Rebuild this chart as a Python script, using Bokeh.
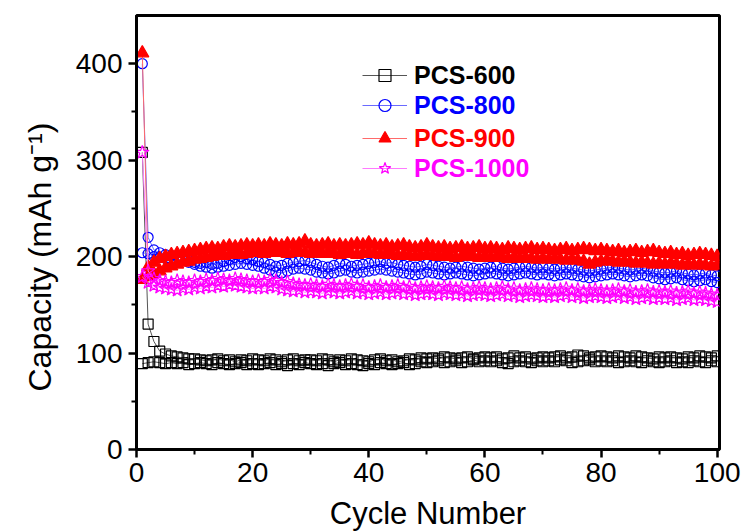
from bokeh.plotting import figure
from bokeh.models import Range1d, FixedTicker, Legend, LegendItem, Title
from bokeh.layouts import column
from bokeh.core.properties import value
from bokeh.embed import file_html
from bokeh.resources import INLINE

cycles = list(range(1, 101))

pcs600_dis = [308, 130, 112, 102, 99, 97, 96, 95, 94, 94,
              93, 92, 93, 94, 92, 93, 91, 93, 92, 94,
              93, 92, 94, 93, 91, 93, 94, 92, 93, 93,
              92, 94, 93, 91, 93, 92, 94, 93, 92, 91,
              93, 94, 92, 93, 91, 92, 94, 93, 95, 94,
              95, 94, 96, 95, 94, 95, 96, 94, 95, 96,
              95, 96, 94, 95, 97, 95, 96, 94, 95, 96,
              95, 96, 97, 95, 96, 98, 97, 95, 96, 97,
              96, 95, 97, 96, 95, 97, 96, 95, 94, 96,
              95, 96, 95, 94, 96, 95, 97, 96, 95, 97]
pcs600_chg = [89, 90, 91, 90, 89, 90, 89, 90, 88, 89,
              90, 89, 88, 90, 89, 88, 89, 90, 88, 89,
              88, 89, 90, 88, 89, 87, 89, 88, 90, 89,
              88, 89, 87, 89, 90, 88, 89, 88, 87, 89,
              88, 90, 89, 88, 89, 90, 88, 89, 91, 90,
              91, 92, 90, 91, 92, 90, 91, 93, 91, 92,
              91, 92, 90, 89, 91, 92, 91, 90, 92, 91,
              92, 91, 93, 92, 90, 91, 92, 93, 91, 92,
              91, 92, 90, 91, 92, 91, 90, 92, 91, 90,
              91, 92, 90, 91, 90, 92, 91, 90, 92, 91]

pcs800_dis = [400, 220, 207, 204, 202, 201, 200, 199, 196, 194,
              193, 194, 192, 193, 195, 197, 199, 200, 198, 197,
              195, 194, 192, 190, 191, 193, 194, 195, 196, 194,
              192, 190, 189, 191, 193, 192, 190, 191, 192, 193,
              194, 195, 193, 194, 192, 191, 190, 189, 190, 192,
              191, 190, 189, 188, 189, 190, 189, 188, 187, 188,
              189, 190, 188, 187, 188, 189, 190, 189, 188, 189,
              188, 187, 188, 189, 188, 187, 186, 185, 186, 187,
              188, 189, 188, 187, 186, 187, 188, 187, 185, 184,
              183, 184, 185, 183, 182, 181, 182, 183, 181, 180]
pcs800_chg = [204, 203, 200, 199, 198, 197, 197, 196, 194, 192,
              190, 189, 188, 189, 190, 191, 192, 193, 192, 191,
              190, 188, 186, 184, 183, 185, 187, 188, 187, 186,
              184, 183, 182, 183, 185, 186, 184, 183, 184, 185,
              186, 187, 186, 185, 184, 183, 182, 181, 182, 184,
              183, 182, 181, 182, 183, 182, 181, 180, 181, 182,
              183, 182, 181, 180, 181, 182, 183, 182, 181, 182,
              181, 180, 181, 182, 181, 180, 179, 178, 179, 180,
              181, 182, 181, 180, 179, 180, 181, 180, 178, 177,
              176, 177, 178, 176, 175, 174, 175, 176, 174, 173]

pcs900_dis = [411, 189, 194, 198, 200, 202, 203, 204, 205, 206,
              207, 208, 209, 208, 210, 211, 210, 211, 212, 211,
              212, 211, 213, 212, 211, 213, 212, 213, 216, 212,
              211, 212, 213, 211, 212, 211, 212, 213, 212, 214,
              212, 211, 212, 210, 211, 212, 210, 209, 210, 212,
              210, 209, 210, 208, 209, 210, 208, 209, 210, 208,
              209, 208, 207, 209, 208, 207, 208, 209, 207, 208,
              207, 206, 207, 208, 206, 207, 208, 207, 206, 207,
              206, 205, 206, 204, 205, 206, 204, 205, 206, 204,
              203, 204, 202, 203, 201, 202, 203, 202, 201, 200]
pcs900_chg = [176, 179, 182, 185, 188, 190, 192, 194, 195, 197,
              198, 199, 200, 201, 201, 202, 203, 202, 203, 204,
              204, 203, 204, 205, 204, 203, 204, 205, 204, 203,
              204, 203, 204, 203, 202, 204, 203, 202, 203, 204,
              203, 202, 203, 202, 201, 202, 201, 200, 201, 202,
              201, 200, 201, 200, 199, 200, 201, 200, 199, 200,
              199, 200, 199, 198, 199, 198, 199, 198, 197, 198,
              197, 198, 197, 196, 197, 196, 195, 192, 194, 195,
              196, 195, 194, 195, 194, 193, 194, 193, 192, 193,
              192, 193, 192, 191, 192, 191, 192, 191, 190, 191]

pcs1000_dis = [308, 185, 177, 175, 174, 173, 175, 174, 173, 175,
               174, 176, 175, 177, 176, 175, 177, 176, 175, 174,
               175, 174, 176, 175, 173, 174, 172, 171, 170, 171,
               170, 169, 171, 170, 169, 170, 171, 169, 170, 168,
               169, 170, 168, 169, 170, 168, 169, 167, 168, 169,
               168, 167, 169, 168, 167, 168, 166, 167, 168, 167,
               166, 167, 168, 166, 167, 165, 166, 167, 166, 165,
               166, 165, 166, 167, 165, 166, 164, 165, 166, 165,
               164, 165, 166, 164, 165, 163, 164, 165, 163, 164,
               163, 164, 162, 163, 164, 162, 163, 162, 161, 160]
pcs1000_chg = [179, 173, 170, 168, 167, 166, 165, 167, 166, 168,
               167, 169, 168, 170, 169, 171, 170, 169, 168, 167,
               168, 167, 169, 168, 166, 165, 164, 165, 163, 164,
               163, 162, 164, 163, 162, 163, 164, 162, 163, 161,
               162, 163, 161, 162, 163, 161, 162, 160, 161, 162,
               161, 160, 162, 161, 160, 161, 159, 160, 161, 160,
               159, 160, 161, 159, 160, 158, 159, 160, 159, 158,
               159, 158, 159, 160, 158, 159, 157, 158, 159, 158,
               157, 158, 159, 157, 158, 156, 157, 158, 156, 157,
               156, 157, 155, 156, 157, 155, 156, 155, 154, 153]

names = ["PCS-600", "PCS-800", "PCS-900", "PCS-1000"]
x_ticks = [0, 20, 40, 60, 80, 100]
x_minor = [10, 30, 50, 70, 90]
y_ticks = [0, 100, 200, 300, 400]
y_minor = [50, 150, 250, 350]
x_title = "Cycle Number"
y_title = "Capacity (mAh g\u207b\u00b9)"

FONT = "Liberation Sans"
W = 741
H_MAIN, H_TITLE = 494, 38
BL, BR, BT, BB = 136, 22, 15, 45

p = figure(width=W, height=H_MAIN, output_backend="svg", toolbar_location=None,
           x_range=Range1d(0, 100.4), y_range=Range1d(0, 450),
           min_border_left=BL, min_border_right=BR, min_border_top=BT,
           min_border_bottom=BB)
p.background_fill_color = "white"
p.border_fill_color = "white"
p.xgrid.visible = False
p.ygrid.visible = False
p.outline_line_color = "black"
p.outline_line_width = 3

p.xaxis.ticker = FixedTicker(ticks=x_ticks, minor_ticks=x_minor)
p.yaxis.ticker = FixedTicker(ticks=y_ticks, minor_ticks=y_minor)
for ax in (p.xaxis[0], p.yaxis[0]):
    ax.axis_line_width = 3
    ax.axis_line_color = "black"
    ax.major_tick_in = 0
    ax.major_tick_out = 8
    ax.minor_tick_in = 0
    ax.minor_tick_out = 5
    ax.major_tick_line_width = 2.5
    ax.minor_tick_line_width = 2
    ax.major_label_text_font = FONT
    ax.major_label_text_font_size = "28px"
    ax.major_label_text_color = "black"

p.xaxis.major_label_standoff = 5
p.yaxis.major_label_standoff = 6

# rotated y title, placed lower than the frame centre as in the original
p.add_layout(Title(text=y_title, align="left", offset=58, standoff=27,
                   vertical_align="middle",
                   text_font=FONT, text_font_size="32px",
                   text_font_style="normal", text_color="black"), "left")

styles = [
    dict(color="black", line="#555555", marker="square", size=10, fill=None),
    dict(color="blue", line="#6a6aff", marker="circle", size=10, fill=None),
    dict(color="red", line="#ff6a6a", marker="triangle", size=13, fill="red"),
    dict(color="magenta", line="#ff7aff", marker="star", size=14, fill=None),
]
series = [
    (pcs600_dis, pcs600_chg),
    (pcs800_dis, pcs800_chg),
    (pcs900_dis, pcs900_chg),
    (pcs1000_dis, pcs1000_chg),
]

legend_items = []
for (dis, chg), st in zip(series, styles):
    for arr in (chg, dis):
        ln = p.line(cycles, arr, line_color=st["line"], line_width=1)
        sc = p.scatter(cycles, arr, marker=st["marker"], size=st["size"],
                       line_color=st["color"], line_width=1.2,
                       fill_color=st["fill"])
    legend_items.append((ln, sc))

frame_h = H_MAIN - BT - BB
centers = [60, 90, 123, 153]
for (ln, sc), name, st, cy in zip(legend_items, names, styles, centers):
    lg = Legend(items=[LegendItem(label=name, renderers=[ln, sc])],
                location=(226, frame_h - cy - 15),
                glyph_width=45, glyph_height=30, label_height=30,
                label_standoff=7, padding=0, margin=0, spacing=0,
                border_line_color=None, background_fill_alpha=0,
                label_text_font=FONT, label_text_font_size="25px",
                label_text_font_style="bold", label_text_color=st["color"])
    p.add_layout(lg, "center")

# x-axis title strip, aligned with the main frame
t = figure(width=W, height=H_TITLE, output_backend="svg", toolbar_location=None,
           x_range=Range1d(0, 1), y_range=Range1d(0, 1),
           x_axis_type=None, y_axis_type=None,
           min_border_left=BL, min_border_right=BR, min_border_top=0,
           min_border_bottom=0)
t.xgrid.visible = False
t.ygrid.visible = False
t.outline_line_color = None
t.background_fill_color = "white"
t.border_fill_color = "white"
t.text(x=[0.5], y=[0.5], text=[x_title], text_align="center",
       text_baseline="middle", text_font=value(FONT), text_font_size="31px",
       text_color="black")

open("out.html", "w").write(file_html(column(p, t, spacing=0), INLINE))
